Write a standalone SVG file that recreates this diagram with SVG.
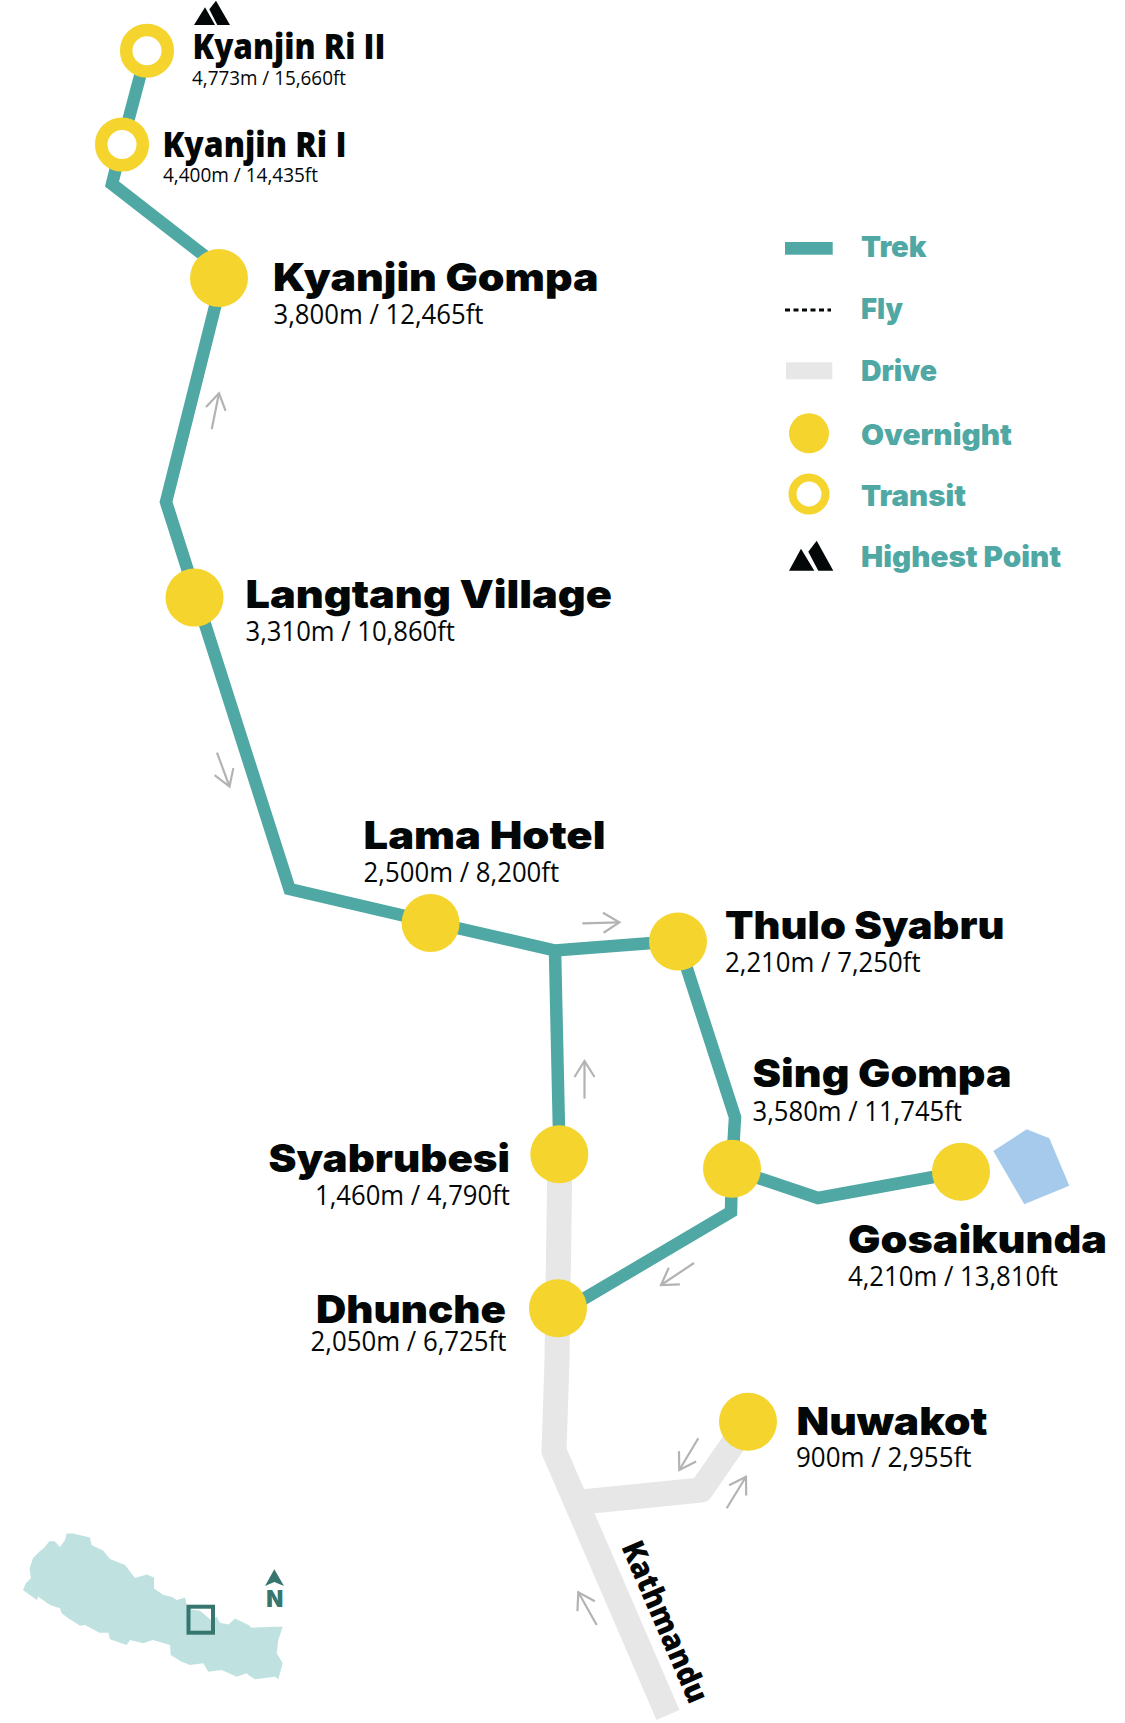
<svg xmlns="http://www.w3.org/2000/svg" width="1125" height="1723" viewBox="0 0 1125 1723">
<style>
.trek{fill:none;stroke:#4fa8a3;stroke-width:12.500;stroke-linejoin:miter}
.drive{fill:none;stroke:#e6e7e6;stroke-width:25;stroke-linejoin:round}
.dir{fill:none;stroke:#b3b3b3;stroke-width:2.200;marker-end:url(#open)}
.stop{fill:#f4d42d}
.transit{fill:#fff;stroke:#f4d42d;stroke-width:12.500}
text{fill:#040708}
.t{font-family:Inter,"Open Sans",sans-serif;font-weight:900;font-size:39px}
.r{font-family:"Open Sans","Liberation Sans",sans-serif;font-weight:800;font-size:35px}
.s{font-family:"Open Sans","Liberation Sans",sans-serif;font-size:27px}
.xs{font-family:"Open Sans","Liberation Sans",sans-serif;font-size:20px}
.l{font-family:Inter,"Open Sans",sans-serif;font-weight:900;font-size:29px;fill:#4fa8a3}
.peak{fill:#040708}
</style>
<defs>
<marker id="open" markerUnits="userSpaceOnUse" markerWidth="40" markerHeight="40" refX="20" refY="20" orient="auto" overflow="visible">
<path d="M4,10 L20,20 L4,30" fill="none" stroke="#b3b3b3" stroke-width="2.200"/>
</marker>
</defs>
<g id="map">
<path fill="#bfe2e0" d="M23,1590 L26,1583 L31,1578 L29.500,1569 L33,1558 L40,1551 L44,1548 L49.500,1541 L55,1541.500 L60,1547 L65,1540 L66.700,1533.500 L73,1533.500 L90,1537.500 L91.500,1545 L103,1550.500 L110,1559 L125,1565 L135,1578 L146.700,1574.500 L154,1577.500 L154,1588.500 L163.500,1595 L171.700,1596.700 L176.700,1600 L185,1597.500 L186.700,1605 L191.700,1609.500 L200,1610.700 L211,1620 L216.700,1616.700 L220,1622.700 L228.500,1624.500 L235,1618.500 L248.500,1625 L251.700,1627.700 L276.700,1626.700 L282.700,1626.700 L278.300,1640 L276.700,1653.300 L282.700,1663.300 L278.300,1679.300 L275,1676.700 L255,1679.300 L248.300,1675 L246.700,1673.300 L236.700,1676.700 L221.700,1670 L208.300,1671.700 L203.300,1663.300 L190,1665 L181.700,1661.700 L170.700,1655 L170,1645 L152.700,1640 L143.300,1643.300 L130,1640 L126.700,1645 L110,1639.300 L108.300,1632.700 L99.300,1632.700 L85,1625 L80,1625.700 L68.300,1618.300 L61.700,1613.300 L60,1608.300 L50,1605 L38.300,1596.700 L36.700,1600 Z"/>
<rect x="188.500" y="1606.700" width="24.500" height="26" fill="none" stroke="#37756f" stroke-width="4"/>
<polygon points="274.300,1569.300 284,1586 274.300,1582 265,1586" fill="#37756f"/>
<text x="266.300" y="1607.300" textLength="17" lengthAdjust="spacingAndGlyphs" style="font-family:Inter,sans-serif;font-weight:900;font-size:23px;fill:#37756f">N</text>
</g>
<g id="connectors">
<path class="drive" d="M560,1154 L557,1360 L554,1451 L668,1715"/>
<path class="drive" d="M572,1503 L701,1490 L748,1422"/>
<path class="trek" d="M147,50 L122,144 L112,184 L224,271 L166,502 L289.500,889 L431,922 L555,950.500 L678,941"/>
<path class="trek" d="M555,950.500 L559.500,1154"/>
<path class="trek" d="M678,941 L735,1117 L732,1169 L731,1212 L558,1314"/>
<path class="trek" d="M732,1169 L818,1198 L961,1172"/>
<path class="dir" d="M211.700,429.300 L219,393.300"/>
<path class="dir" d="M217,752.600 L229.500,786.600"/>
<path class="dir" d="M582.300,923.300 L619.300,922.300"/>
<path class="dir" d="M584.500,1098.600 L584.500,1061"/>
<path class="dir" d="M694,1263 L661,1285"/>
<path class="dir" d="M698.300,1438.300 L679.300,1470"/>
<path class="dir" d="M726.700,1508.300 L746,1476.700"/>
<path class="dir" d="M596.700,1625 L578.300,1592.300"/>
</g>
<g id="node-kyanjin-ri-2">
<circle class="transit" cx="147" cy="50.700" r="20.800"/>
<polygon class="peak" points="194,25 205,7.300 215,25"/>
<polygon class="peak" points="216,0.700 230,25 217.300,25 209.300,9.300"/>
<text class="r" x="192.500" y="59.300" textLength="193" lengthAdjust="spacingAndGlyphs">Kyanjin Ri II</text>
<text class="xs" x="192" y="85" textLength="154" lengthAdjust="spacingAndGlyphs">4,773m / 15,660ft</text>
</g>
<g id="node-kyanjin-ri-1">
<circle class="transit" cx="122" cy="144.500" r="20.800"/>
<text class="r" x="162.500" y="156.700" textLength="184" lengthAdjust="spacingAndGlyphs">Kyanjin Ri I</text>
<text class="xs" x="163" y="181.700" textLength="155" lengthAdjust="spacingAndGlyphs">4,400m / 14,435ft</text>
</g>
<g id="node-kyanjin-gompa">
<circle class="stop" cx="219" cy="278" r="29"/>
<text class="t" x="273" y="290.700" textLength="325.500" lengthAdjust="spacingAndGlyphs">Kyanjin Gompa</text>
<text class="s" x="273.500" y="324" textLength="210" lengthAdjust="spacingAndGlyphs">3,800m / 12,465ft</text>
</g>
<g id="node-langtang-village">
<circle class="stop" cx="194.500" cy="597.600" r="29"/>
<text class="t" x="245.500" y="607.500" textLength="366.500" lengthAdjust="spacingAndGlyphs">Langtang Village</text>
<text class="s" x="245.500" y="641" textLength="209.500" lengthAdjust="spacingAndGlyphs">3,310m / 10,860ft</text>
</g>
<g id="node-lama-hotel">
<circle class="stop" cx="430.600" cy="923" r="29"/>
<text class="t" x="363.600" y="849.300" textLength="242" lengthAdjust="spacingAndGlyphs">Lama Hotel</text>
<text class="s" x="363.600" y="882" textLength="195.600" lengthAdjust="spacingAndGlyphs">2,500m / 8,200ft</text>
</g>
<g id="node-thulo-syabru">
<circle class="stop" cx="678" cy="941.500" r="29"/>
<text class="t" x="725" y="939" textLength="279.500" lengthAdjust="spacingAndGlyphs">Thulo Syabru</text>
<text class="s" x="725" y="972.300" textLength="195.600" lengthAdjust="spacingAndGlyphs">2,210m / 7,250ft</text>
</g>
<g id="node-sing-gompa">
<circle class="stop" cx="732" cy="1168.700" r="29"/>
<text class="t" x="752.500" y="1086.700" textLength="259" lengthAdjust="spacingAndGlyphs">Sing Gompa</text>
<text class="s" x="752.500" y="1121" textLength="209.500" lengthAdjust="spacingAndGlyphs">3,580m / 11,745ft</text>
</g>
<g id="node-gosaikunda">
<circle class="stop" cx="961" cy="1171.700" r="29"/>
<polygon points="993.300,1151 1026.700,1129.300 1049.300,1138.300 1069.300,1185.700 1024.300,1204.300" fill="#a6caec"/>
<text class="t" x="848" y="1253" textLength="259" lengthAdjust="spacingAndGlyphs">Gosaikunda</text>
<text class="s" x="848" y="1286" textLength="210" lengthAdjust="spacingAndGlyphs">4,210m / 13,810ft</text>
</g>
<g id="node-syabrubesi">
<circle class="stop" cx="559.300" cy="1154.300" r="29"/>
<text class="t" x="268.500" y="1171.700" textLength="241.500" lengthAdjust="spacingAndGlyphs">Syabrubesi</text>
<text class="s" x="315" y="1205" textLength="195" lengthAdjust="spacingAndGlyphs">1,460m / 4,790ft</text>
</g>
<g id="node-dhunche">
<circle class="stop" cx="558" cy="1308.300" r="29"/>
<text class="t" x="316" y="1322.700" textLength="190" lengthAdjust="spacingAndGlyphs">Dhunche</text>
<text class="s" x="310.500" y="1351" textLength="196" lengthAdjust="spacingAndGlyphs">2,050m / 6,725ft</text>
</g>
<g id="node-nuwakot">
<circle class="stop" cx="748" cy="1421.700" r="29"/>
<text class="t" x="796.500" y="1434.800" textLength="191" lengthAdjust="spacingAndGlyphs">Nuwakot</text>
<text class="s" x="796" y="1467" textLength="175.500" lengthAdjust="spacingAndGlyphs">900m / 2,955ft</text>
</g>
<g id="node-kathmandu">
<text transform="translate(621,1546.700) rotate(66.600)" x="0" y="0" textLength="173" lengthAdjust="spacingAndGlyphs" style="font-family:'Open Sans',sans-serif;font-weight:800;font-size:31px">Kathmandu</text>
</g>
<g id="legend">
<rect x="785" y="242" width="47.700" height="12.700" fill="#4fa8a3"/>
<text class="l" x="861" y="257.300" textLength="65.500" lengthAdjust="spacingAndGlyphs">Trek</text>
<line x1="785" y1="310" x2="831" y2="310" stroke="#040708" stroke-width="3" stroke-dasharray="5 3.500"/>
<text class="l" x="861" y="319" textLength="42" lengthAdjust="spacingAndGlyphs">Fly</text>
<rect x="786" y="362.300" width="46.300" height="17" fill="#e6e7e6"/>
<text class="l" x="861" y="381" textLength="76" lengthAdjust="spacingAndGlyphs">Drive</text>
<circle class="stop" cx="809" cy="433.300" r="20"/>
<text class="l" x="861" y="445.300" textLength="151" lengthAdjust="spacingAndGlyphs">Overnight</text>
<circle cx="809" cy="494" r="16.500" fill="#fff" stroke="#f4d42d" stroke-width="8"/>
<text class="l" x="861" y="506.300" textLength="105" lengthAdjust="spacingAndGlyphs">Transit</text>
<polygon class="peak" points="789,570.700 801,548.700 814.300,570.700"/>
<polygon class="peak" points="816.700,540.700 833.300,570.700 818.300,570.700 808.300,551.700"/>
<text class="l" x="861" y="567" textLength="200" lengthAdjust="spacingAndGlyphs">Highest Point</text>
</g>
</svg>
